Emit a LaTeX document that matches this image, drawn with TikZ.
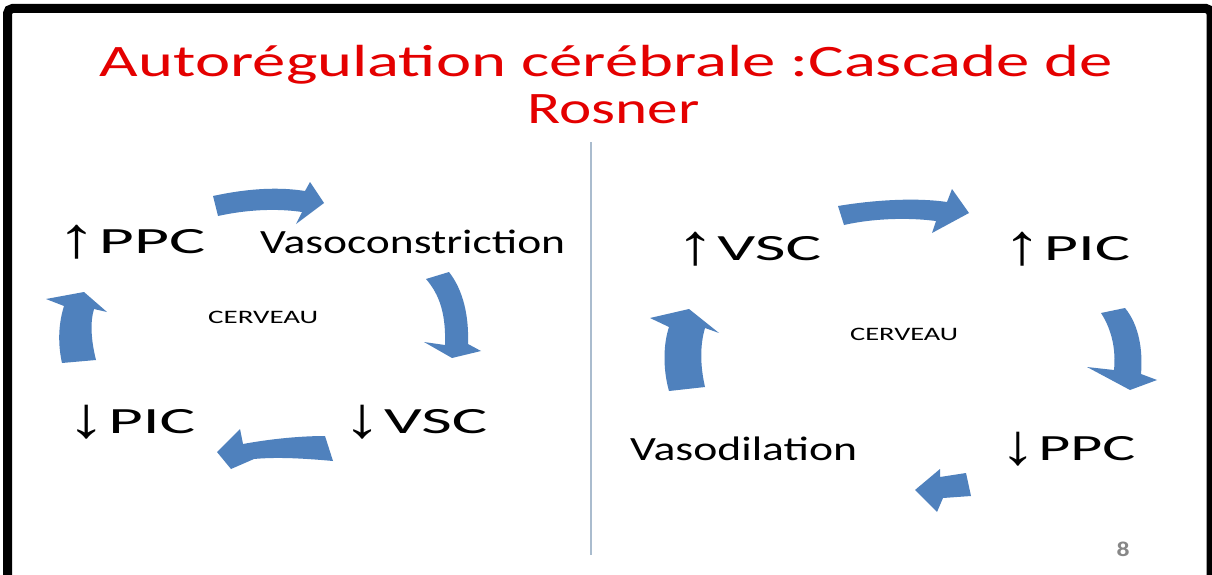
\documentclass[tikz,border=0pt]{standalone}
\usepackage{fontspec}
\usepackage{graphicx}
\setmainfont{Carlito}
\newfontfamily\arrfont{Liberation Sans}
\definecolor{slideblue}{RGB}{79,129,189}
\definecolor{titlered}{RGB}{228,0,0}
\definecolor{sepline}{RGB}{170,188,206}
\definecolor{pagegray}{RGB}{135,135,135}
\newcommand{\fitw}[3]{\resizebox{#1pt}{\height}{\fontsize{#2}{#2}\selectfont #3}}
\newcommand{\up}{\raisebox{-0.13em}{\resizebox*{1.15\width}{0.92em}{\arrfont ↑}}\hspace{0.04em}}
\newcommand{\dn}{\raisebox{-0.13em}{\resizebox*{1.15\width}{0.92em}{\arrfont ↓}}\hspace{0.04em}}
\begin{document}
\begin{tikzpicture}[x=1pt,y=-1pt,
  lab/.style={inner sep=0pt, anchor=base west},
  blk/.style={fill=slideblue, draw=none}]
\useasboundingbox (0,0) rectangle (1212,575);
\fill[white] (0,0) rectangle (1212,575);
% frame
\draw[line width=9pt, rounded corners=5pt] (7.5,585) -- (7.5,8.5) -- (1211,8.5) -- (1211,585);
% title
\node[anchor=base, inner sep=0pt, text=titlered] (t1) at (606.5,77) {\fitw{1013}{45}{Autorégulation cérébrale :Cascade de}};
\node[anchor=base, inner sep=0pt, text=titlered] (t2) at (613.5,124) {\fitw{172}{45}{Rosner}};
% separator
\coordinate (s1) at (591,142);
\coordinate (s2) at (591,555);
\draw[sepline, line width=1.5pt] (s1) -- (s2);
% left labels
\node[lab] (ppcL) at (57,253) {\fitw{148}{37}{\up PPC}};
\node[lab] (vcL) at (260,253) {\fitw{305}{34}{Vasoconstriction}};
\node[lab] (cerL) at (208,323) {\fitw{110}{19}{CERVEAU}};
\node[lab] (picL) at (67,433) {\fitw{128}{37}{\dn PIC}};
\node[lab] (vscL) at (343,433) {\fitw{144}{37}{\dn VSC}};
% right labels
\node[lab] (vscR) at (676,260) {\fitw{145}{37}{\up VSC}};
\node[lab] (picR) at (1003,260) {\fitw{127}{37}{\up PIC}};
\node[lab] (cerR) at (850,340) {\fitw{108}{19}{CERVEAU}};
\node[lab] (ppcR) at (1000,460) {\fitw{135}{37}{\dn PPC}};
\node[lab] (vdR) at (630,460) {\fitw{227}{34}{Vasodilation}};
\node[anchor=base, inner sep=0pt, text=pagegray] (pg) at (1123,556) {\fitw{13}{21}{\bfseries 8}};
% left cycle arrows
\fill[blk] (213,196) .. controls (250,188) and (280,187) .. (305,191) -- (310,182) -- (324,203) -- (296,224) -- (302,212) .. controls (275,208) and (245,210) .. (218,216) -- cycle;
\fill[blk] (426,279) -- (449,272) .. controls (463,290) and (469,315) .. (468,344) -- (481,351) -- (452,358) -- (424,342) -- (445,345) .. controls (446,315) and (440,295) .. (426,279) -- cycle;
\fill[blk] (325,436) -- (333,461) .. controls (300,458) and (275,457) .. (254,459) -- (231,469) -- (217,452) -- (240,429) -- (243,444) .. controls (270,439) and (300,436) .. (325,436) -- cycle;
\fill[blk] (62,363) -- (96,360) .. controls (91,340) and (90,322) .. (94,309) -- (107,312) -- (84,292) -- (46,299) -- (64,306) .. controls (58,325) and (58,345) .. (62,363) -- cycle;
% right cycle arrows
\fill[blk] (838,206) .. controls (880,199) and (920,198) .. (947,202) -- (952,189) -- (969,213) -- (932,233) -- (936,221) .. controls (905,217) and (870,219) .. (844,225) -- cycle;
\fill[blk] (1101,313) -- (1125,308) .. controls (1139,325) and (1143,350) .. (1141,374) -- (1157,380) -- (1130,390) -- (1087,367) -- (1114,370) .. controls (1116,350) and (1112,330) .. (1101,313) -- cycle;
\fill[blk] (966,473) -- (971,496) -- (943,498) -- (937,512) -- (915,490) -- (940,469) -- (940,477) -- cycle;
\fill[blk] (669,391) -- (705,387) .. controls (700,365) and (700,345) .. (705,328) -- (719,333) -- (689,309) -- (650,318) -- (669,327) .. controls (663,345) and (663,370) .. (669,391) -- cycle;
\end{tikzpicture}
\end{document}
